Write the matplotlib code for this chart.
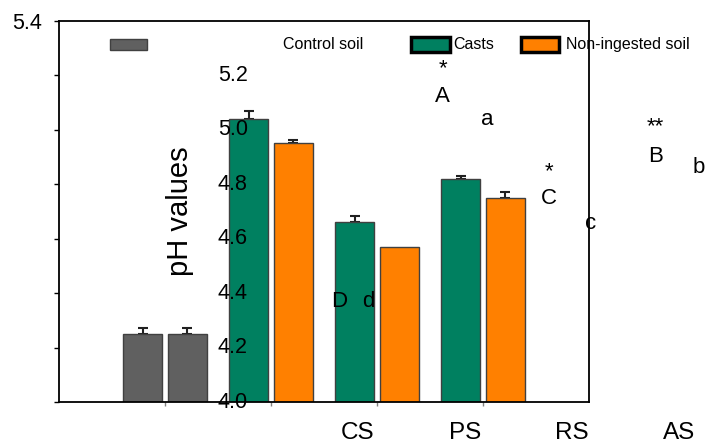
import numpy as np
import matplotlib
matplotlib.use('Agg')
import matplotlib.pyplot as plt
from matplotlib.patches import Rectangle

plt.rcParams['font.family'] = ['Liberation Sans', 'DejaVu Sans']

# data
group_x = [1, 2, 3, 4]
control_ph = [4.25, 4.25]
control_err = [0.023, 0.023]
casts_ph = [5.04, 4.66, 4.82]
casts_err = [0.03, 0.022, 0.01]
soil_ph = [4.95, 4.57, 4.75]
soil_err = [0.012, 0.0, 0.02]
ytick_vals = [4.0, 4.2, 4.4, 4.6, 4.8, 5.0, 5.2, 5.4]
site_labels = ['CS', 'PS', 'RS', 'AS']
letters = [('*', 3.62, 5.239, 16), ('A', 3.62, 5.136, 16), ('a', 4.04, 5.051, 16),
           ('**', 5.63, 5.026, 16), ('B', 5.63, 4.915, 16), ('b', 6.04, 4.875, 16),
           ('*', 4.62, 4.860, 16), ('C', 4.62, 4.761, 16), ('c', 5.02, 4.669, 16),
           ('D', 2.64, 4.382, 16), ('d', 2.915, 4.382, 16)]

gray = '#606060'
green = '#008060'
orange = '#ff8000'
edge = '#404040'

fig = plt.figure(figsize=(7.06, 4.45), dpi=100)
ax = fig.add_axes([59 / 706, 43 / 445, 530 / 706, 381 / 445])

w = 0.368
off = 0.208
ekw = dict(ecolor='#202020', elinewidth=1.5, capsize=3.5, capthick=1.5)


def up_err(x, y, e):
    # only the upper half of the error bar, skip empty ones
    x, y, e = np.asarray(x, float), np.asarray(y, float), np.asarray(e, float)
    m = e > 0
    ax.errorbar(x[m], y[m], yerr=[np.zeros(m.sum()), e[m]], fmt='none', zorder=1, **ekw)


# control soil pair
ctrl_x = [group_x[0] - off, group_x[0] + off]
ax.bar(ctrl_x, control_ph, w, color=gray, edgecolor=edge, linewidth=1, zorder=2)
up_err(ctrl_x, control_ph, control_err)

# casts / non-ingested soil
cx = np.array(group_x[1:], dtype=float)
ax.bar(cx - off, casts_ph, w, color=green, edgecolor=edge, linewidth=1, zorder=2)
ax.bar(cx + off, soil_ph, w, color=orange, edgecolor=edge, linewidth=1, zorder=2)
up_err(cx - off, casts_ph, casts_err)
up_err(cx + off, soil_ph, soil_err)

ax.set_xlim(0, 5)
ax.set_ylim(4.0, 5.4)
ax.set_yticks(ytick_vals)
ax.set_yticklabels([''] * 7 + ['5.4'], fontsize=15.5)
ax.set_xticks(group_x)
ax.set_xticklabels([])
ax.tick_params(axis='y', direction='out', length=3.5, width=1, pad=9)
ax.tick_params(axis='x', direction='out', length=3, width=1, color='#808080')
for s in ax.spines.values():
    s.set_linewidth(1.3)

# misplaced tick labels drawn over the plot
for v in ytick_vals[:-1]:
    ax.text(1.64, v, '%.1f' % v, ha='center', va='center', fontsize=15.5, zorder=5)

for i, lab in enumerate(site_labels):
    ax.text(2.82 + 1.01 * i, 3.885, lab, ha='center', va='center', fontsize=17.5, clip_on=False)

ax.text(1.14, 4.70, 'pH values', rotation=90, ha='center', va='center', fontsize=21)

for t, x, y, fs in letters:
    ax.text(x, y - 0.013, t, ha='center', va='center', fontsize=fs, clip_on=False, zorder=5)

# legend pieces
ax.add_patch(Rectangle((0.48, 5.294), 0.35, 0.041, facecolor=gray, edgecolor=edge,
                       linewidth=1, clip_on=False, zorder=3))
ax.text(2.11, 5.315, 'Control soil', ha='left', va='center', fontsize=11.5)
ax.add_patch(Rectangle((3.325, 5.285), 0.36, 0.056, facecolor=green, edgecolor='black',
                       linewidth=2.5, clip_on=False, zorder=3))
ax.text(3.72, 5.315, 'Casts', ha='left', va='center', fontsize=11.5)
ax.add_patch(Rectangle((4.36, 5.285), 0.36, 0.056, facecolor=orange, edgecolor='black',
                       linewidth=2.5, clip_on=False, zorder=3))
ax.text(4.78, 5.315, 'Non-ingested soil', ha='left', va='center', fontsize=11.5, clip_on=False)

fig.savefig('out.png', dpi=100)
